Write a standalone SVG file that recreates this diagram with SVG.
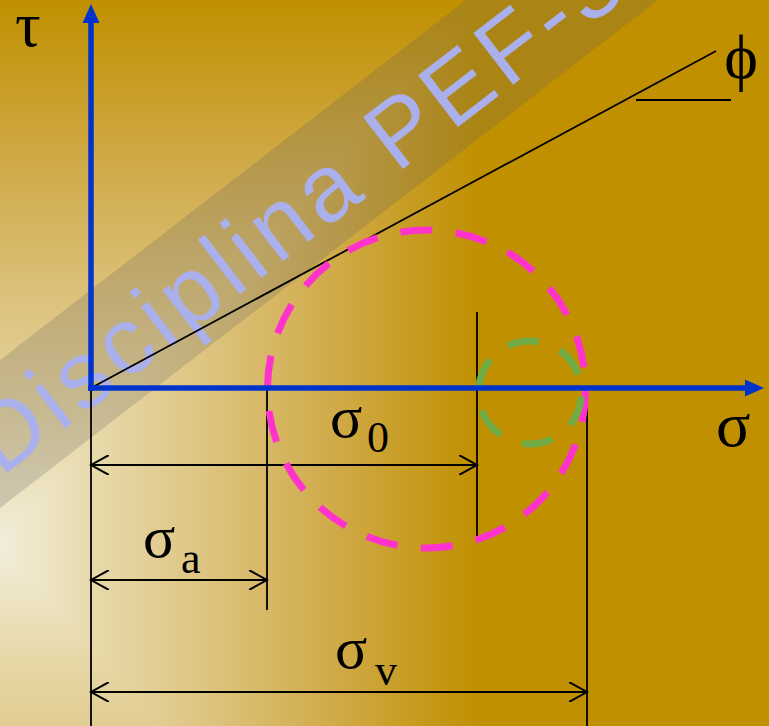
<svg xmlns="http://www.w3.org/2000/svg" width="769" height="726" viewBox="0 0 769 726">
  <defs>
    <linearGradient id="gh" gradientUnits="userSpaceOnUse" x1="0" y1="0" x2="480" y2="0">
      <stop offset="0" stop-color="#f2eedc"/>
      <stop offset="0.2" stop-color="#e8d9aa"/>
      <stop offset="0.45" stop-color="#dcc27c"/>
      <stop offset="0.7" stop-color="#d0aa48"/>
      <stop offset="0.88" stop-color="#c69a1c"/>
      <stop offset="1" stop-color="#c09000"/>
    </linearGradient>
    <linearGradient id="gu" gradientUnits="userSpaceOnUse" x1="0" y1="545" x2="0" y2="0">
      <stop offset="0" stop-color="#f2eedc"/>
      <stop offset="0.2" stop-color="#e8d9aa"/>
      <stop offset="0.45" stop-color="#dcc27c"/>
      <stop offset="0.7" stop-color="#d0aa48"/>
      <stop offset="0.88" stop-color="#c69a1c"/>
      <stop offset="1" stop-color="#c09000"/>
    </linearGradient>
    <linearGradient id="gd" gradientUnits="userSpaceOnUse" x1="0" y1="545" x2="0" y2="1090">
      <stop offset="0" stop-color="#f2eedc"/>
      <stop offset="0.2" stop-color="#e8d9aa"/>
      <stop offset="0.45" stop-color="#dcc27c"/>
      <stop offset="0.7" stop-color="#d0aa48"/>
      <stop offset="0.88" stop-color="#c69a1c"/>
      <stop offset="1" stop-color="#c09000"/>
    </linearGradient>
    <marker id="open" viewBox="0 0 20 20" refX="18" refY="10" markerWidth="20" markerHeight="20" markerUnits="userSpaceOnUse" orient="auto-start-reverse">
      <polyline points="0,0 18,10 0,20" fill="none" stroke="#000" stroke-width="2"/>
    </marker>
  </defs>
  <style>
    .sym { font-family: "Liberation Serif", "Times New Roman", serif; fill: #000; }
    .big { font-size: 64px; }
    .lab { font-size: 60px; }
    .sub { font-size: 44px; }
    .dim { stroke: #000; stroke-width: 2; fill: none; }
    .thin { stroke: #000; stroke-width: 1.8; fill: none; }
    .axis { stroke: #0033cc; stroke-width: 5.5; fill: none; }
    .head { fill: #0033cc; }
  </style>

  <g id="background">
    <rect x="0" y="0" width="769" height="726" fill="#c09000"/>
    <rect x="0" y="0" width="480" height="726" fill="url(#gh)"/>
    <polygon points="0,545 480,0 0,0" fill="url(#gu)"/>
    <polygon points="0,545 159,726 0,726" fill="url(#gd)"/>
  </g>

  <g id="watermark">
    <polygon points="-50,398.6 466,0 658,0 -50,546.6" fill="#5b5b5b" fill-opacity="0.22"/>
    <text transform="translate(1,477.6) rotate(-37.5)" font-family="Liberation Sans, Arial, sans-serif" font-size="95" letter-spacing="6" fill="#aab0ec">Disciplina PEF-3</text>
  </g>

  <g id="connectors">
    <line class="thin" x1="91" y1="388" x2="716" y2="51"/>
    <line class="dim" x1="636" y1="100" x2="731" y2="100"/>
    <line class="thin" x1="91" y1="388" x2="91" y2="726"/>
    <line class="thin" x1="267" y1="388" x2="267" y2="610"/>
    <line class="thin" x1="477" y1="312" x2="477" y2="536"/>
    <line class="thin" x1="587" y1="388" x2="587" y2="726"/>
    <line class="dim" x1="91" y1="465" x2="477" y2="465" marker-start="url(#open)" marker-end="url(#open)"/>
    <line class="dim" x1="91" y1="580" x2="267" y2="580" marker-start="url(#open)" marker-end="url(#open)"/>
    <line class="dim" x1="91" y1="692" x2="587" y2="692" marker-start="url(#open)" marker-end="url(#open)"/>
  </g>

  <g id="circle-main">
    <circle cx="426.5" cy="389" r="159" fill="none" stroke="#ff33cc" stroke-width="7" stroke-dasharray="32 23.5" stroke-dashoffset="-1.3"/>
  </g>
  <g id="circle-small">
    <circle cx="530" cy="392.5" r="51.5" fill="none" stroke="#70ad47" stroke-width="7" stroke-dasharray="31 22.93" stroke-dashoffset="-4.1"/>
  </g>

  <g id="axes">
    <line class="axis" x1="91" y1="391" x2="91" y2="20"/>
    <polygon class="head" points="91,4 82.5,23 99.5,23"/>
    <line class="axis" x1="88.25" y1="388" x2="747" y2="388"/>
    <polygon class="head" points="764,388 745,379.5 745,396.5"/>
  </g>

  <g id="labels">
    <text class="sym big" x="15" y="46">τ</text>
    <text class="sym big" x="716" y="446">σ</text>
    <text class="sym big" x="741" y="78" text-anchor="middle">ϕ</text>
    <text class="sym lab" x="330" y="437">σ</text>
    <text class="sym sub" x="367" y="452">0</text>
    <text class="sym lab" x="143" y="557">σ</text>
    <text class="sym sub" x="181" y="573">a</text>
    <text class="sym lab" x="335" y="668">σ</text>
    <text class="sym sub" x="375" y="685">v</text>
  </g>
</svg>
